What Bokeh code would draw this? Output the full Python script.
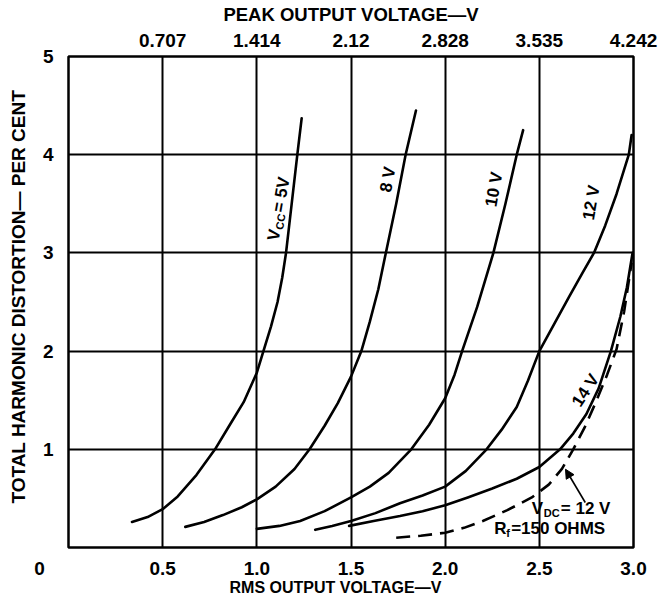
import math
from bokeh.plotting import figure
from bokeh.models import Range1d, LinearAxis, FixedTicker, Arrow, NormalHead
from bokeh.core.properties import value
from bokeh.embed import file_html
from bokeh.resources import INLINE

FONT = "Liberation Sans"

# ---------------- data ----------------
rms_ticks = [0.0, 0.5, 1.0, 1.5, 2.0, 2.5, 3.0]
rms_labels = ["0", "0.5", "1.0", "1.5", "2.0", "2.5", "3.0"]
peak_ticks = [0.5, 1.0, 1.5, 2.0, 2.5, 3.0]
peak_labels = ["0.707", "1.414", "2.12", "2.828", "3.535", "4.242"]
thd_ticks = [1, 2, 3, 4, 5]

x_5v = [0.337, 0.42, 0.50, 0.58, 0.68, 0.778, 0.86, 0.93, 1.00, 1.035, 1.075, 1.11, 1.135, 1.155, 1.185, 1.215, 1.238]
y_5v = [0.26, 0.31, 0.39, 0.52, 0.74, 1.00, 1.26, 1.48, 1.78, 2.00, 2.25, 2.50, 2.75, 3.00, 3.50, 4.00, 4.37]

x_8v = [0.62, 0.72, 0.82, 0.92, 1.00, 1.10, 1.20, 1.28, 1.36, 1.43, 1.50, 1.555, 1.60, 1.645, 1.685, 1.74, 1.79, 1.845]
y_8v = [0.21, 0.26, 0.33, 0.41, 0.49, 0.62, 0.80, 1.00, 1.24, 1.47, 1.74, 2.00, 2.30, 2.63, 3.00, 3.50, 4.00, 4.45]

x_10v = [1.00, 1.12, 1.23, 1.36, 1.50, 1.60, 1.70, 1.82, 1.915, 2.00, 2.05, 2.09, 2.17, 2.256, 2.32, 2.38, 2.414]
y_10v = [0.19, 0.22, 0.27, 0.37, 0.51, 0.62, 0.76, 1.00, 1.25, 1.52, 1.76, 2.00, 2.45, 3.00, 3.50, 4.00, 4.25]

x_12v = [1.31, 1.40, 1.50, 1.63, 1.76, 1.88, 2.00, 2.11, 2.22, 2.30, 2.38, 2.44, 2.50, 2.58, 2.66, 2.73, 2.79, 2.85, 2.91, 2.975, 2.99]
y_12v = [0.18, 0.22, 0.27, 0.35, 0.45, 0.53, 0.62, 0.78, 1.00, 1.20, 1.43, 1.70, 2.00, 2.28, 2.56, 2.80, 3.00, 3.28, 3.60, 4.00, 4.20]

x_14v = [1.49, 1.62, 1.76, 1.88, 2.00, 2.12, 2.25, 2.38, 2.50, 2.61, 2.68, 2.75, 2.815, 2.88, 2.93, 2.965, 2.995]
y_14v = [0.22, 0.27, 0.32, 0.37, 0.43, 0.51, 0.60, 0.70, 0.82, 1.00, 1.16, 1.36, 1.62, 2.00, 2.35, 2.65, 3.00]

x_rf = [1.74, 1.87, 2.00, 2.10, 2.20, 2.33, 2.46, 2.55, 2.62, 2.68, 2.74, 2.80, 2.86, 2.91, 2.95, 2.99]
y_rf = [0.10, 0.12, 0.15, 0.20, 0.27, 0.38, 0.51, 0.64, 0.80, 1.00, 1.22, 1.48, 1.76, 2.02, 2.40, 2.90]

curve_texts = ["8 V", "10 V", "12 V", "14 V"]

# ---------------- layout ----------------
W, H = 672, 604
BL, BR, BT, BB = 68, 39, 56, 57
FW, FH = W - BL - BR, H - BT - BB
PX_X = FW / 3.0
PX_Y = FH / 5.0

p = figure(width=W, height=H, x_range=Range1d(0, 3), y_range=Range1d(0, 5),
           output_backend="svg", toolbar_location=None,
           min_border_left=BL, min_border_right=BR, min_border_top=BT, min_border_bottom=BB,
           background_fill_color="white", border_fill_color="white")
p.outline_line_color = "black"
p.outline_line_width = 2.5

def style_axis(ax, size="19px"):
    ax.axis_line_color = None
    ax.major_tick_line_color = None
    ax.minor_tick_line_color = None
    ax.major_tick_out = 0
    ax.major_tick_in = 0
    ax.major_label_text_font = FONT
    ax.major_label_text_font_size = size
    ax.major_label_text_font_style = "bold"
    ax.major_label_text_color = "black"
    ax.axis_label_text_font = FONT
    ax.axis_label_text_font_style = "bold"
    ax.axis_label_text_color = "black"

NB = "\u00a0"
bx = p.xaxis[0]
bx.ticker = FixedTicker(ticks=rms_ticks)
# origin label "0" sits left of the frame corner: pad with no-break spaces
bx.major_label_overrides = {t: (l + NB * 11 if t == 0 else l) for t, l in zip(rms_ticks, rms_labels)}
style_axis(bx)
bx.major_label_standoff = 10
bx.axis_label = "RMS OUTPUT VOLTAGE\u2014V" + NB * 7
bx.axis_label_text_font_size = "16px"
bx.axis_label_standoff = -3

ly = p.yaxis[0]
ly.ticker = FixedTicker(ticks=thd_ticks)
style_axis(ly)
ly.major_label_standoff = 15
ly.axis_label = NB * 2 + "TOTAL HARMONIC DISTORTION\u2014 PER CENT"
ly.axis_label_text_font_size = "19px"
ly.axis_label_standoff = 11

tx = LinearAxis(ticker=FixedTicker(ticks=peak_ticks),
                major_label_overrides=dict(zip(peak_ticks, peak_labels)))
style_axis(tx)
tx.major_label_standoff = 10
tx.axis_label = "PEAK OUTPUT VOLTAGE\u2014V"
tx.axis_label_text_font_size = "18.5px"
tx.axis_label_standoff = 6
p.add_layout(tx, "above")

p.xgrid.grid_line_color = "black"
p.xgrid.grid_line_width = 2
p.ygrid.grid_line_color = "black"
p.ygrid.grid_line_width = 2

# ---------------- curves ----------------
for xs, ys in [(x_5v, y_5v), (x_8v, y_8v), (x_10v, y_10v), (x_12v, y_12v), (x_14v, y_14v)]:
    p.line(xs, ys, line_color="black", line_width=2.6, line_join="round", line_cap="round")
p.line(x_rf, y_rf, line_color="black", line_width=2.6, line_dash="14 8")

# ---------------- labels ----------------
def place(x, y, d, s, theta):
    c, sn = math.cos(theta), math.sin(theta)
    dxp = d * c + s * sn
    dyp = -d * sn + s * c
    return x + dxp / PX_X, y - dyp / PX_Y

lab_x = [1.695, 2.259, 2.776, 2.745]
lab_y = [3.748, 3.647, 3.512, 1.60]
lab_a = [math.radians(80), math.radians(80), math.radians(80), math.radians(57)]
p.text(x=lab_x, y=lab_y, text=curve_texts, angle=lab_a,
       text_font=value(FONT), text_font_size="17px", text_font_style="bold",
       text_align="center", text_baseline="middle", text_color="black")

def multi(x0, y0, theta, pieces):
    for txt, size, d, s in pieces:
        x, y = place(x0, y0, d, s, theta)
        p.text(x=[x], y=[y], text=[txt], angle=theta,
               text_font=value(FONT), text_font_size=size, text_font_style="bold",
               text_align="left", text_baseline="middle", text_color="black")

multi(1.086, 3.125, math.radians(80),
      [("V", "17px", 0, 0), ("CC", "11px", 12, 4), ("= 5V", "17px", 29, 0)])
multi(2.46, 0.395, 0.0,
      [("V", "17px", 0, 0), ("DC", "11px", 12, 4), ("= 12 V", "17px", 29, 0)])
multi(2.26, 0.19, 0.0,
      [("R", "17px", 0, 0), ("f", "11px", 12, 4), ("=150 OHMS", "17px", 17, 0)])

p.add_layout(Arrow(end=NormalHead(size=9, fill_color="black", line_color="black"),
                   x_start=2.744, y_start=0.458, x_end=2.639, y_end=0.797,
                   line_color="black", line_width=1.6))

open("out.html", "w").write(file_html(p, INLINE))
